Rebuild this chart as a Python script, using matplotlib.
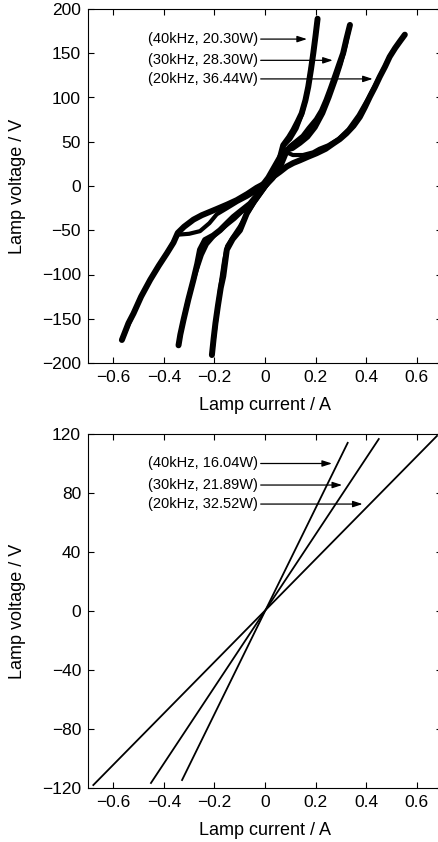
import matplotlib
matplotlib.use("Agg")
import matplotlib.pyplot as plt

plt.rcParams['font.family'] = ['Liberation Sans', 'DejaVu Sans']

# ---------------- data: top panel (measured V-I loops) ----------------
i40_up = [-0.210, -0.203, -0.196, -0.186, -0.175, -0.165, -0.151, -0.128, -0.099, -0.072, -0.045, -0.020,
          0.000, 0.025, 0.050, 0.072, 0.095, 0.112, 0.130, 0.145, 0.160, 0.171, 0.182, 0.191, 0.200, 0.208]
v40_up = [-191, -172, -155, -135, -115, -102, -72, -60, -50, -31, -18, -8,
          0, 10, 22, 46, 55, 63, 73, 82, 97, 112, 132, 150, 170, 189]
i40_dn = [0.208, 0.198, 0.186, 0.174, 0.160, 0.145, 0.125, 0.100, 0.075, 0.062, 0.045, 0.020, -0.010,
          -0.040, -0.070, -0.100, -0.128, -0.150, -0.162, -0.175, -0.188, -0.200, -0.210]
v40_dn = [189, 165, 142, 118, 96, 80, 65, 53, 46, 33, 20, 6, -6,
          -18, -31, -46, -58, -68, -85, -110, -140, -168, -191]

i30_up = [-0.342, -0.335, -0.322, -0.303, -0.283, -0.268, -0.257, -0.237, -0.205, -0.178, -0.150, -0.125,
          -0.090, -0.059, -0.030, 0.000, 0.030, 0.060, 0.086, 0.099, 0.125, 0.151, 0.175, 0.204, 0.225,
          0.243, 0.260, 0.276, 0.293, 0.309, 0.322, 0.336]
v30_up = [-180, -168, -151, -128, -106, -88, -72, -61, -56, -50, -42, -35,
          -27, -20, -10, 0, 9, 22, 40, 44, 50, 56, 65, 75, 85,
          97, 110, 123, 137, 150, 166, 182]
i30_dn = [0.336, 0.320, 0.300, 0.280, 0.255, 0.230, 0.200, 0.170, 0.140, 0.110, 0.085, 0.070, 0.050,
          0.020, -0.010, -0.045, -0.080, -0.120, -0.160, -0.200, -0.230, -0.250, -0.270, -0.290, -0.310,
          -0.328, -0.342]
v30_dn = [182, 160, 138, 120, 100, 82, 66, 55, 48, 42, 40, 36, 22,
          8, -5, -16, -26, -37, -46, -56, -66, -78, -95, -113, -135,
          -158, -180]

i20_up = [-0.566, -0.555, -0.540, -0.520, -0.490, -0.454, -0.420, -0.388, -0.362, -0.345, -0.320, -0.283,
          -0.250, -0.191, -0.150, -0.112, -0.070, -0.033, 0.000, 0.030, 0.059, 0.086, 0.112, 0.138, 0.170,
          0.204, 0.240, 0.270, 0.296, 0.322, 0.350, 0.375, 0.395, 0.415, 0.435, 0.454, 0.475, 0.493,
          0.515, 0.535, 0.553]
v20_up = [-174, -166, -155, -144, -125, -106, -90, -76, -64, -53, -46, -38,
          -33, -26, -21, -16, -9, -2, 3, 10, 16, 22, 26, 29, 33,
          37, 42, 48, 53, 59.5, 68, 78, 89, 101, 112, 123.5, 135, 146,
          156, 164, 171]
i20_dn = [0.553, 0.500, 0.454, 0.410, 0.370, 0.330, 0.290, 0.250, 0.215, 0.190, 0.150, 0.110, 0.086,
          0.070, 0.040, 0.010, -0.030, -0.070, -0.110, -0.150, -0.191, -0.220, -0.257, -0.300, -0.345,
          -0.362, -0.388, -0.420, -0.454, -0.490, -0.520, -0.545, -0.566]
v20_dn = [171, 150, 124, 100, 80, 64, 53, 46, 42, 38, 35, 35, 38,
          40, 25, 10, -5, -12, -18, -25, -32, -42, -51, -54, -55,
          -63, -76, -90, -106, -125, -144, -160, -174]

top_labels = ["(40kHz, 20.30W)", "(30kHz, 28.30W)", "(20kHz, 36.44W)"]
top_arrow_x = [0.166, 0.268, 0.426]
top_arrow_y = [166, 142, 121]

# ---------------- data: bottom panel (model, linear) ----------------
i40_lin = [-0.328, 0.327]
v40_lin = [-114.6, 114.0]
i30_lin = [-0.451, 0.450]
v30_lin = [-116.6, 116.6]
i20_lin = [-0.679, 0.680]
v20_lin = [-118.0, 118.7]

bot_labels = ["(40kHz, 16.04W)", "(30kHz, 21.89W)", "(20kHz, 32.52W)"]
bot_arrow_x = [0.265, 0.305, 0.386]
bot_arrow_y = [100, 85.4, 72.5]

x_ticks = [-0.6, -0.4, -0.2, 0.0, 0.2, 0.4, 0.6]
x_ticklabels = ["\u22120.6", "\u22120.4", "\u22120.2", "0", "0.2", "0.4", "0.6"]
top_yticks = [-200, -150, -100, -50, 0, 50, 100, 150, 200]
bot_yticks = [-120, -80, -40, 0, 40, 80, 120]

W, H = 438, 842
fig = plt.figure(figsize=(W / 100, H / 100), dpi=100)

def px_axes(left, top, right, bottom):
    return fig.add_axes([left / W, 1 - bottom / H, (right - left) / W, (bottom - top) / H])

ax1 = px_axes(88, 9, 442, 363)
ax2 = px_axes(88, 434, 442, 788)

def style(ax, yticks, ylim):
    ax.set_xlim(-0.7, 0.7)
    ax.set_ylim(*ylim)
    ax.set_xticks(x_ticks)
    ax.set_xticklabels(x_ticklabels)
    ax.set_yticks(yticks)
    ax.set_yticklabels([("\u2212" + str(-t)) if t < 0 else str(t) for t in yticks])
    ax.tick_params(direction='in', top=True, right=True, length=4, width=0.8,
                   labelsize=12.5, pad=5.0, colors='black')
    for s in ax.spines.values():
        s.set_linewidth(0.8)
        s.set_color('black')
    ax.set_xlabel("Lamp current / A", fontsize=13)
    ax.set_ylabel("Lamp voltage / V", fontsize=13)
    ax.xaxis.set_label_coords(0.5, -0.119)
    ax.xaxis.label.set_va('center')
    ax.yaxis.set_label_coords(-0.2, 0.5)
    ax.yaxis.label.set_va('center')

style(ax1, top_yticks, (-200, 200))
style(ax2, bot_yticks, (-120, 120))

# top panel curves
for iu, vu, idn, vdn in [(i40_up, v40_up, i40_dn, v40_dn),
                         (i30_up, v30_up, i30_dn, v30_dn),
                         (i20_up, v20_up, i20_dn, v20_dn)]:
    ax1.plot(iu, vu, color='black', lw=4.3, solid_capstyle='round', solid_joinstyle='round')
    ax1.plot(idn, vdn, color='black', lw=3.0, solid_capstyle='round', solid_joinstyle='round')

# bottom panel lines
for ii, vv in [(i40_lin, v40_lin), (i30_lin, v30_lin), (i20_lin, v20_lin)]:
    ax2.plot(ii, vv, color='black', lw=1.3)

arrowprops = dict(arrowstyle='-|>,head_length=0.55,head_width=0.18', color='black', lw=0.9,
                  shrinkA=0, shrinkB=0)
text_x = -0.028
for ax, labels, ax_x, ax_y in [(ax1, top_labels, top_arrow_x, top_arrow_y),
                               (ax2, bot_labels, bot_arrow_x, bot_arrow_y)]:
    for lab, xa, ya in zip(labels, ax_x, ax_y):
        ax.annotate(lab, xy=(xa, ya), xytext=(text_x, ya), ha='right', va='center',
                    fontsize=10.5, arrowprops=arrowprops)

fig.savefig("out.png", dpi=100)
